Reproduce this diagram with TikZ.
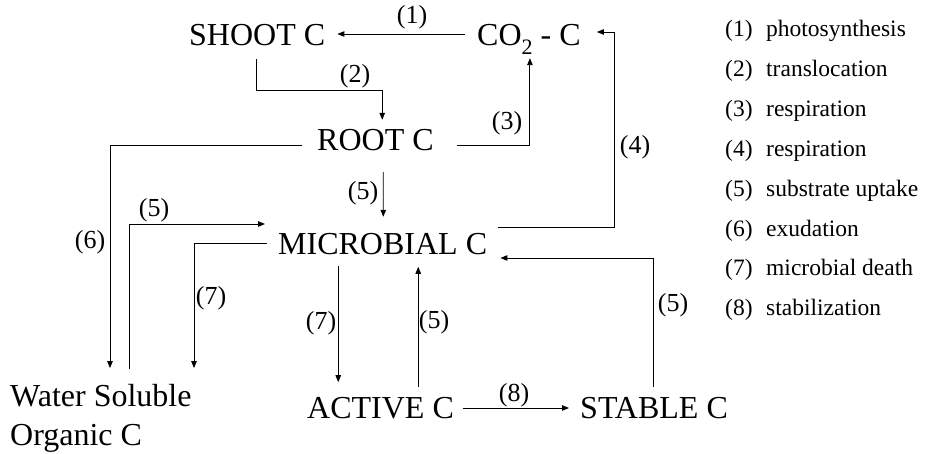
\documentclass[tikz,border=0pt]{standalone}
\usepackage{fontspec}
\setmainfont{Liberation Serif}
\usetikzlibrary{arrows.meta,calc}
\begin{document}
\begin{tikzpicture}[x=1pt,y=1pt,
  box/.style={inner sep=0pt, anchor=base west, text height=21.2pt, text depth=0pt, font=\fontsize{32}{38}\selectfont},
  lab/.style={inner sep=0pt, font=\fontsize{26}{30}\selectfont},
  leg/.style={inner sep=0pt, anchor=base west, font=\fontsize{23.5}{28}\selectfont},
  arr/.style={line width=0.9pt, -{Triangle[length=7pt,width=5.5pt]}}]
\useasboundingbox (0,0) rectangle (925,453);
% pools
\node[box] (shoot)  at (189,407) {SHOOT C};
\node[box] (co2)    at (477,407) {CO\raisebox{-0.55ex}{\fontsize{22}{22}\selectfont 2} - C};
\node[box] (root)   at (317,302) {ROOT C};
\node[box] (micro)  at (278,199) {MICROBIAL C};
\node[box] (active) at (307,35)  {ACTIVE C};
\node[box] (stable) at (580,35)  {STABLE C};
\node[inner sep=0pt, anchor=north west, align=left, font=\fontsize{32}{39}\selectfont] (wsoc) at (10,68.9) {Water Soluble\\Organic C};
% connectors
\draw[arr] ($(co2.west)+(-12,1.4)$) -- ($(shoot.east)+(12,1.4)$);
\draw[arr] ($(shoot.south)+(-0.5,-13)$) |- ($(root.north)+(6.8,38.8)$) -- ($(root.north)+(6.8,9.8)$);
\draw[arr] ($(root.east)+(23.6,-4.6)$) -| ($(co2.south)+(1,-12)$);
\draw[arr] ($(micro.east)+(11.1,16.4)$) -| ($(co2.east)+(34,3.4)$) -- ($(co2.east)+(16,3.4)$);
\draw[arr] ($(root.south)+(7.8,-21)$) -- ($(micro.north)+(0.6,15.8)$);
\draw[arr] ($(root.west)+(-15,-4.6)$) -| ($(wsoc.north west)+(100,16)$);
\draw[arr] ($(wsoc.north west)+(119.5,15)$) |- ($(micro.west)+(-13,19.4)$);
\draw[arr] ($(micro.west)+(-11,0.4)$) -| ($(wsoc.north west)+(184,16)$);
\draw[arr] ($(micro.south)+(-44.4,-12)$) -- ++(0,-116);
\draw[arr] ($(active.north)+(37.7,9.8)$) -- ++(0,120);
\draw[arr] ($(stable.north)+(-0.1,9.8)$) |- ($(micro.east)+(13.1,-14.6)$);
\draw[arr] ($(active.east)+(9.3,-0.6)$) -- ($(stable.west)+(-11,-0.6)$);
% connector labels
\node[lab] (l1)  at (412,436) {(1)};
\node[lab] (l2)  at (355,377) {(2)};
\node[lab] (l3)  at (507,330) {(3)};
\node[lab] (l4)  at (635,306) {(4)};
\node[lab] (l5a) at (363,260) {(5)};
\node[lab] (l6)  at (90,211)  {(6)};
\node[lab] (l5b) at (154,243) {(5)};
\node[lab] (l7a) at (211,155) {(7)};
\node[lab] (l7b) at (321,130) {(7)};
\node[lab] (l5c) at (434,131) {(5)};
\node[lab] (l5d) at (673,148) {(5)};
\node[lab] (l8)  at (514,58)  {(8)};
% legend
\foreach \n/\t [count=\i from 0] in {1/photosynthesis,2/translocation,3/respiration,4/respiration,5/substrate uptake,6/exudation,7/microbial death,8/stabilization}{
  \node[leg] (k\n) at (725,416-39.8*\i) {(\n)};
  \node[leg] (d\n) at (766,416-39.8*\i) {\t};
}
\end{tikzpicture}
\end{document}
